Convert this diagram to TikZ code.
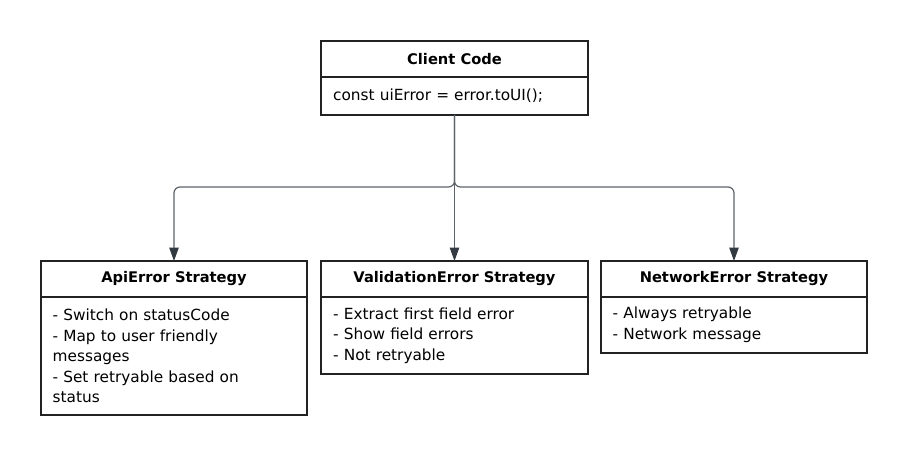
\documentclass[tikz,border=0pt]{standalone}
\usepackage{fontspec}
\setmainfont{DejaVu Sans}
\usetikzlibrary{positioning,arrows.meta}
\definecolor{boxline}{HTML}{222222}
\definecolor{wire}{HTML}{5E6369}
\definecolor{tipfill}{HTML}{333A42}

\begin{document}
\begin{tikzpicture}[x=0.75pt, y=-0.75pt, node distance=0pt,
  head/.style={draw=boxline, line width=1.4pt, outer sep=0pt, inner sep=0pt,
    minimum width=200pt, minimum height=27pt, font=\fontsize{11}{13}\selectfont\bfseries},
  body/.style={draw=boxline, line width=1.4pt, outer sep=0pt, inner xsep=9pt, inner ysep=0pt,
    text width=182pt, align=left, font=\fontsize{11.5}{15.4}\selectfont},
  link/.style={draw=wire, line width=0.9pt, rounded corners=4.5pt,
    -{Triangle[length=10pt, width=7pt, color=tipfill]}}]
  \useasboundingbox (0,0) rectangle (908,467);

  % Define boxes
  \node[head, anchor=north] (Client) at (454.5,41) {Client Code};
  \node[body, minimum height=28.5pt, below=of Client] (ClientBody) {const uiError = error.toUI();};

  \node[head, anchor=north] (Api) at (174,261) {ApiError Strategy};
  \node[body, minimum height=88.5pt, below=of Api] (ApiBody)
    {- Switch on statusCode\\- Map to user friendly\\messages\\- Set retryable based on\\status};

  \node[head, anchor=north] (Valid) at (454.5,261) {ValidationError Strategy};
  \node[body, minimum height=57.75pt, below=of Valid] (ValidBody)
    {- Extract first field error\\- Show field errors\\- Not retryable};

  \node[head, anchor=north] (Net) at (734,261) {NetworkError Strategy};
  \node[body, minimum height=42pt, below=of Net] (NetBody)
    {- Always retryable\\- Network message};

  % Define connectors
  \coordinate (Split) at (ClientBody.south |- 0,187);
  \draw[link] (ClientBody.south) -- (Split) -| (Api.north);
  \draw[link] (ClientBody.south) -- (Valid.north);
  \draw[link] (ClientBody.south) -- (Split) -| (Net.north);
\end{tikzpicture}
\end{document}
